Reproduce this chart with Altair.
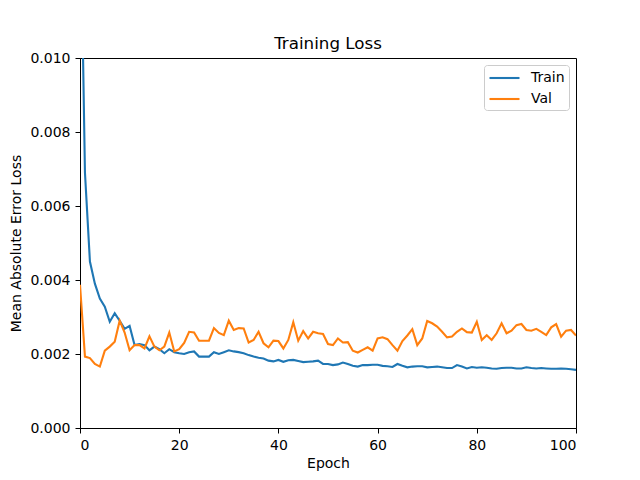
import altair as alt
import pandas as pd

epochs = list(range(101))
train = [0.015, 0.0069, 0.0045, 0.0039, 0.0035, 0.00328, 0.00287, 0.0031, 0.0029, 0.00268,
         0.00276, 0.00224, 0.00227, 0.00224, 0.0021, 0.0022, 0.00213, 0.00202, 0.00213, 0.00205,
         0.00202, 0.002, 0.00205, 0.00207, 0.00193, 0.00193, 0.00193, 0.00205, 0.002, 0.00205,
         0.0021, 0.00207, 0.00205, 0.00202, 0.00197, 0.00193, 0.0019, 0.00188, 0.00182, 0.0018,
         0.00184, 0.00179, 0.00183, 0.00184, 0.00181, 0.00178, 0.00179, 0.0018, 0.00182, 0.00173,
         0.00173, 0.0017, 0.00172, 0.00177, 0.00173, 0.00168, 0.00166, 0.0017, 0.0017, 0.00171,
         0.00171, 0.00168, 0.00167, 0.00165, 0.00173, 0.00168, 0.00164, 0.00166, 0.00167, 0.00167,
         0.00164, 0.00165, 0.00166, 0.00164, 0.00162, 0.00162, 0.0017, 0.00166, 0.00161, 0.00165,
         0.00163, 0.00164, 0.00163, 0.00161, 0.0016, 0.00162, 0.00163, 0.00163, 0.00161, 0.00161,
         0.00164, 0.00162, 0.00161, 0.00162, 0.00161, 0.0016, 0.0016, 0.00161, 0.0016, 0.00159,
         0.00157]
val = [0.00387, 0.00193, 0.00189, 0.00173, 0.00166, 0.00209, 0.0022, 0.00233, 0.0029, 0.00258,
       0.0021, 0.00224, 0.00224, 0.00215, 0.00248, 0.0022, 0.0021, 0.0022, 0.00258, 0.00207,
       0.00213, 0.0023, 0.0026, 0.00258, 0.00236, 0.00236, 0.00236, 0.0027, 0.00257, 0.00251,
       0.0029, 0.00265, 0.0027, 0.00269, 0.00231, 0.00238, 0.0026, 0.00229, 0.00218, 0.00236,
       0.00235, 0.00215, 0.00238, 0.00286, 0.00236, 0.00262, 0.00242, 0.0026, 0.00256, 0.00254,
       0.00227, 0.00224, 0.00242, 0.00231, 0.00232, 0.00209, 0.00204, 0.00211, 0.00218, 0.00209,
       0.00242, 0.00245, 0.0024, 0.00224, 0.00209, 0.00235, 0.0025, 0.00267, 0.00224, 0.00242,
       0.00289, 0.00283, 0.00274, 0.0026, 0.00245, 0.00247, 0.0026, 0.00269, 0.00259, 0.00258,
       0.00287, 0.00238, 0.00251, 0.00238, 0.00256, 0.00283, 0.00256, 0.00263, 0.00278, 0.00281,
       0.00265, 0.00263, 0.00268, 0.0026, 0.00251, 0.00272, 0.00281, 0.00247, 0.00263, 0.00265,
       0.0025]

series_names = ["Train", "Val"]
series_colors = ["#1f77b4", "#ff7f0e"]
x_ticks = [0, 20, 40, 60, 80, 100]
y_ticks = [0.0, 0.002, 0.004, 0.006, 0.008, 0.010]

df = pd.concat([
    pd.DataFrame({"Epoch": epochs, "Loss": train, "Series": "Train"}),
    pd.DataFrame({"Epoch": epochs, "Loss": val, "Series": "Val"}),
])

font = "DejaVu Sans"

chart = alt.Chart(df).mark_line(strokeWidth=2.1, clip=True).encode(
    x=alt.X("Epoch:Q",
            scale=alt.Scale(domain=[0, 100], nice=False, zero=False),
            axis=alt.Axis(values=x_ticks, format="d", title="Epoch")),
    y=alt.Y("Loss:Q",
            scale=alt.Scale(domain=[0, 0.01], nice=False),
            axis=alt.Axis(values=y_ticks, format=".3f", title="Mean Absolute Error Loss",
                          titlePadding=6)),
    color=alt.Color("Series:N",
                    scale=alt.Scale(domain=series_names, range=series_colors),
                    legend=alt.Legend(title=None, orient="top-right", offset=7,
                                      symbolType="M-1,0L3,0", symbolSize=225,
                                      symbolStrokeWidth=2.1,
                                      labelFont=font, labelFontSize=14,
                                      labelColor="black",
                                      strokeColor="#cccccc", cornerRadius=3,
                                      fillColor="white", padding=4,
                                      rowPadding=5, labelOffset=25)),
    order="Epoch:Q",
).properties(
    width=496,
    height=370,
    title=alt.TitleParams("Training Loss", font=font, fontSize=16.7,
                          fontWeight="normal", color="black", anchor="middle",
                          frame="group", offset=8, dy=10),
    autosize="none",
    padding={"left": 72, "top": 50, "right": 56, "bottom": 44},
).configure_view(
    stroke="black", strokeWidth=1
).configure_axis(
    grid=False,
    domainColor="black",
    tickColor="black",
    tickSize=5,
    labelPadding=5,
    labelFont=font,
    labelFontSize=14,
    labelColor="black",
    titleFont=font,
    titleFontSize=14,
    titleFontWeight="normal",
    titleColor="black",
)

chart.save("out.html", embed_options={"renderer": "svg", "actions": False})
